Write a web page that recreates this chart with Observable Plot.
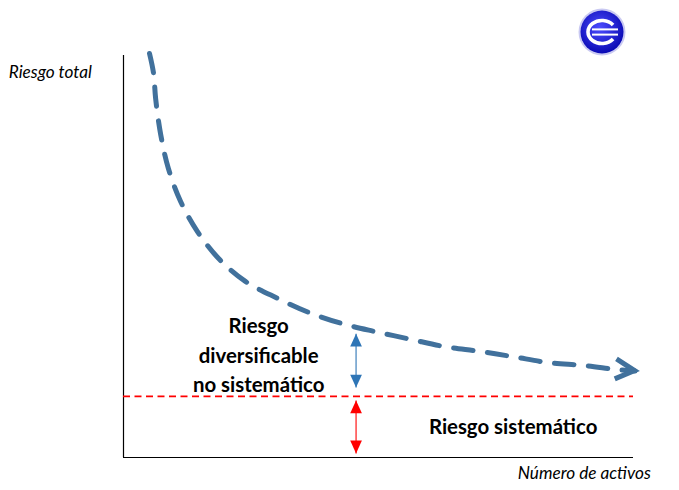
<!DOCTYPE html>
<html>
<head>
<meta charset="utf-8">
<script src="https://cdn.jsdelivr.net/npm/d3@7"></script>
<script src="https://cdn.jsdelivr.net/npm/@observablehq/plot@0.6"></script>
<style>
  body { margin: 0; background: #fff; }
  #chart { width: 679px; height: 490px; }
</style>
</head>
<body>
<div id="chart"></div>
<script>
// Total portfolio risk falling as more assets are added
const assets    = [5.1, 5.9, 6.3, 7.3, 8.8, 11.2, 14.5, 18.8, 23.9, 30.2, 36.3, 42.9, 49.4, 56.3, 62.9, 69.8, 76.3, 83.3, 90.2, 96.7, 100.3];
const totalRisk = [100.5, 95.5, 89.3, 80.3, 71.9, 63.7, 56.2, 49.3, 43.8, 39.6, 36.1, 33.3, 31.3, 29.4, 27.6, 26.4, 25.1, 23.6, 22.9, 21.9, 21.5];

// Floor of risk that diversification cannot remove
const systematicRisk = 15.2;

// Double arrows marking the two risk components
const arrowX = 45.6;
const diversifiableSpan = [30.8, 17.4];
const systematicSpan = [14.2, 1.0];

const axisTitles = ["Riesgo total", "Número de activos"];
const regionLabels = ["Riesgo\ndiversificable\nno sistemático", "Riesgo sistemático"];

const curveColor = "#41719c";
const spanBlue = "#2e75b6";
const spanRed = "#ff0000";

const curve = assets.map((x, i) => ({x, y: totalRisk[i]}));

// Filled triangle heads with the tip at the anchor point
const tipUp = {draw(ctx, size) { const s = Math.sqrt(size); const h = 1.65 * s, w = 0.75 * s;
  ctx.moveTo(0, 0); ctx.lineTo(w, h); ctx.lineTo(-w, h); ctx.closePath(); }};
const tipDown = {draw(ctx, size) { const s = Math.sqrt(size); const h = 1.65 * s, w = 0.75 * s;
  ctx.moveTo(0, 0); ctx.lineTo(w, -h); ctx.lineTo(-w, -h); ctx.closePath(); }};

function doubleArrow([top, bottom], color) {
  return [
    Plot.link([0], {x1: arrowX, x2: arrowX, y1: top, y2: bottom, stroke: color, strokeWidth: 1.1}),
    Plot.dot([top], {x: arrowX, y: d => d, symbol: tipUp, r: 4.4, fill: color, stroke: null}),
    Plot.dot([bottom], {x: arrowX, y: d => d, symbol: tipDown, r: 4.4, fill: color, stroke: null})
  ];
}

// Open chevron at the end of the curve, aligned with its last segment
const chevron = (index, scales) => {
  const n = assets.length;
  const x0 = scales.x(assets[n - 2]), y0 = scales.y(totalRisk[n - 2]);
  const x1 = scales.x(assets[n - 1]), y1 = scales.y(totalRisk[n - 1]);
  const a = Math.atan2(y1 - y0, x1 - x0);
  const ux = Math.cos(a), uy = Math.sin(a), L = 19, W = 10;
  const d = `M${x1 - L * ux - W * uy},${y1 - L * uy + W * ux}L${x1},${y1}L${x1 - L * ux + W * uy},${y1 - L * uy - W * ux}`;
  return d3.create("svg:path")
    .attr("d", d).attr("fill", "none").attr("stroke", curveColor)
    .attr("stroke-width", 5).attr("stroke-linejoin", "miter").node();
};

// Round emblem in the upper right corner
const emblem = (index, scales, values, dimensions) => {
  const cx = dimensions.width - 77, cy = 32;
  const g = d3.create("svg:g").attr("transform", `translate(${cx},${cy})`);
  const grad = g.append("defs").append("radialGradient").attr("id", "emblem-fill")
    .attr("cx", "45%").attr("cy", "40%").attr("r", "60%");
  grad.append("stop").attr("offset", "0%").attr("stop-color", "#4d4dff");
  grad.append("stop").attr("offset", "100%").attr("stop-color", "#0a0ab4");
  g.append("circle").attr("r", 23.5).attr("fill", "#c9c9f2");
  g.append("circle").attr("r", 21.5).attr("fill", "url(#emblem-fill)");
  const rx = 14, ry = 11.5, a0 = 38 * Math.PI / 180;
  g.append("path")
    .attr("d", `M${rx * Math.cos(a0)},${-ry * Math.sin(a0)}A${rx},${ry} 0 1 0 ${rx * Math.cos(a0)},${ry * Math.sin(a0)}`)
    .attr("fill", "none").attr("stroke", "#fff").attr("stroke-width", 3.6);
  for (const dy of [-2.6, 2.6]) {
    g.append("line").attr("x1", -10).attr("x2", 16).attr("y1", dy).attr("y2", dy)
      .attr("stroke", "#fff").attr("stroke-width", 2);
  }
  return g.node();
};

const chart = Plot.plot({
  width: 679,
  height: 490,
  marginLeft: 123,
  marginRight: 46,
  marginTop: 55,
  marginBottom: 33,
  x: {domain: [0, 100], axis: null},
  y: {domain: [0, 100], axis: null},
  style: {fontFamily: "Lato, 'Open Sans', sans-serif", background: "#fff", color: "#000"},
  marks: [
    Plot.ruleX([0], {stroke: "#000", strokeWidth: 1.2}),
    Plot.ruleY([0], {stroke: "#000", strokeWidth: 1.2}),
    Plot.ruleY([systematicRisk], {stroke: spanRed, strokeWidth: 1.8, strokeDasharray: "7,4.5"}),
    Plot.line(curve, {x: "x", y: "y", curve: "catmull-rom", stroke: curveColor, strokeWidth: 5, strokeDasharray: "19.5,14.5"}),
    chevron,
    ...doubleArrow(diversifiableSpan, spanBlue),
    ...doubleArrow(systematicSpan, spanRed),
    Plot.text([axisTitles[0]], {x: -22.5, y: 95.8, text: d => d, textAnchor: "start", fontStyle: "italic", fontSize: 17.2, fill: "#000"}),
    Plot.text([axisTitles[1]], {x: 77.3, y: -4.0, text: d => d, textAnchor: "start", fontStyle: "italic", fontSize: 17.2, fill: "#000"}),
    Plot.text([regionLabels[0]], {x: 26.5, y: 25.9, text: d => d, fontWeight: "bold", fontSize: 20.4, lineHeight: 1.45, fill: "#000"}),
    Plot.text([regionLabels[1]], {x: 76.4, y: 7.5, text: d => d, fontWeight: "bold", fontSize: 20.4, fill: "#000"}),
    emblem
  ]
});

document.getElementById("chart").append(chart);
</script>
</body>
</html>
